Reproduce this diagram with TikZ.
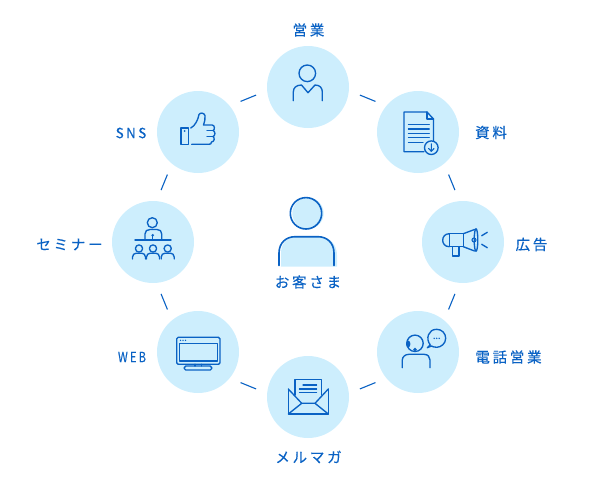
\documentclass[tikz,border=0pt]{standalone}
\usepackage{fontspec}
\usetikzlibrary{calc}
\newfontfamily\jpfont[LetterSpace=19,FakeBold=0.35]{Noto Sans CJK JP}
\definecolor{ink}{HTML}{0A62C4}
\definecolor{pale}{HTML}{CDEEFD}
\tikzset{
  hub/.style={circle,fill=pale,draw=none,minimum size=82pt,inner sep=0pt},
  lbl/.style={text=ink,font=\jpfont\fontsize{14.5}{16}\selectfont,inner sep=0pt},
  lat/.style={text=ink,font=\jpfont\fontsize{14}{16}\selectfont,inner sep=0pt},
  ico/.style={draw=ink,line width=1.35pt,line join=round,line cap=round,fill=none},
  fine/.style={draw=ink,line width=1.05pt,line cap=round},
  link/.style={draw=ink,line width=1.1pt},
}
\newcommand{\dashlink}[2]{\draw[link] ($(c)!1.085!($(#1)!.435!(#2)$)$) -- ($(c)!1.085!($(#1)!.565!(#2)$)$);}
\begin{document}
\begin{tikzpicture}[x=1pt,y=-1pt]
\useasboundingbox (0,0) rectangle (600,480);
\coordinate (c) at (308,242);
\node[hub] (n1) at (308,87) {};
\node[hub] (n2) at (418,132) {};
\node[hub] (n3) at (463,242) {};
\node[hub] (n4) at (418,352) {};
\node[hub] (n5) at (308,397) {};
\node[hub] (n6) at (198,352) {};
\node[hub] (n7) at (153,242) {};
\node[hub] (n8) at (198,132) {};
\dashlink{n1}{n2}\dashlink{n2}{n3}\dashlink{n3}{n4}\dashlink{n4}{n5}
\dashlink{n5}{n6}\dashlink{n6}{n7}\dashlink{n7}{n8}\dashlink{n8}{n1}
% labels
\node[lbl] (t1) at (308.5,30) {営業};
\node[lbl] (t2) at (491,132.5) {資料};
\node[lbl] (t3) at (531.5,244.5) {広告};
\node[lbl] (t4) at (508.5,357) {電話営業};
\node[lbl] (t5) at (308.5,457) {メルマガ};
\node[lat] (t6) at (132,357) {\scalebox{.8}[1]{WEB}};
\node[lat] (t7) at (131,133) {\scalebox{.95}[1]{SNS}};
\node[lbl] (t8) at (69.5,244.5) {セミナー};
\node[lbl] (t0) at (308,282) {お客さま};
% centre person
\fill[pale] (308,213.3) circle (15.7);
\fill[pale] (281,266.7) -- (281,253) .. controls (281,243) and (288,236.7) .. (296,236.7) -- (320,236.7) .. controls (330,236.7) and (337,245) .. (337,255) -- (337,266.7) -- cycle;
\draw[ico,line width=1.6pt] (306,213.3) circle (15.7);
\draw[ico,line width=1.6pt] (279,265.5) -- (279,253) .. controls (279,243) and (286,236.7) .. (295,236.7) -- (318,236.7) .. controls (327,236.7) and (334,243) .. (334,253) -- (334,265.5);
% sales
\draw[ico] (307.3,73.3) circle (8.3);
\draw[ico] (293.3,100.7) -- (293.3,92) .. controls (293.3,88) and (296,85) .. (301.5,85) -- (308,92.7) -- (315,85) .. controls (320,85) and (322.3,88) .. (322.3,92) -- (322.3,100.7);
% document
\draw[ico] (424,151.7) -- (404,151.7) -- (404,112) -- (427,112) -- (433.5,119) -- (433.5,141);
\draw[ico] (427,112) -- (427,119) -- (433.5,119);
\foreach \y/\e in {124.3/429.3,129/429.3,133.3/429.3,137.7/429.3,142.3/423}{\draw[fine] (408.3,\y) -- (\e,\y);}
\draw[ico] (431.3,147.7) circle (6.8);
\draw[ico,line width=1.1pt] (431.3,143.8) -- (431.3,151) (428.6,148.5) -- (431.3,151.3) -- (434,148.5);
% like
\draw[ico] (181,128) rectangle (188.3,144.3);
\fill[ink] (184.7,131) circle (1);
\draw[ico] (190.7,128) .. controls (195,126) and (198,120) .. (199,114.5) .. controls (200,112.5) and (204,112.5) .. (205,115.5) .. controls (205.5,119) and (204.5,122) .. (203.5,125) -- (212,125) .. controls (215,125) and (215,130) .. (213,130.5) .. controls (215.5,131) and (215.5,136) .. (213,136.5) .. controls (215,137.5) and (214.5,142) .. (211.5,142) .. controls (212,144) and (210,144.3) .. (208.5,144.3) -- (191.7,144.3);
\draw[fine] (207,130.5) -- (213,130.5) (207,136.5) -- (213,136.5);
% seminar
\draw[ico] (152.3,222.7) circle (5);
\draw[ico] (145,240) -- (145,234) .. controls (145,231) and (147,229.5) .. (150,229.5) -- (157,229.5) .. controls (160,229.5) and (161.7,231) .. (161.7,234) -- (161.7,240);
\draw[ico] (135,240) -- (171,240);
\fill[ink] (152.7,235.3) circle (1.4);
\draw[fine] (152.7,235.3) -- (152.7,240);
\foreach \x in {139,153,167.7}{
  \draw[ico] (\x,248.5) circle (3.6);
  \draw[ico] (\x-6.5,259) -- (\x-6.5,257) .. controls (\x-6.5,254.5) and (\x-4.5,253.3) .. (\x-3,253.3) -- (\x+3,253.3) .. controls (\x+4.5,253.3) and (\x+6.5,254.5) .. (\x+6.5,257) -- (\x+6.5,259);
}
% megaphone
\draw[ico] (449.3,233.7) rectangle (463.3,246.7);
\draw[ico] (449.3,233.7) .. controls (440.5,233.7) and (440.5,246.7) .. (449.3,246.7);
\draw[ico] (463.3,233.7) -- (474.5,229.5) (463.3,246.7) -- (474.5,251);
\draw[ico] (476,240) ellipse (1.8 and 11.3);
\draw[fine] (474,240) circle (2);
\draw[ico] (452.7,246.7) rectangle (459,256);
\draw[ico] (481.7,235.7) -- (487.3,232.3) (481.7,244.3) -- (487.3,247.7);
% phone
\draw[ico] (415,343.3) circle (8.2);
\fill[ink] (408.2,344) ellipse (2.2 and 3.4);
\fill[ink] (415,349.5) circle (1.9);
\draw[ico] (402.3,367.7) -- (402.3,360) .. controls (402.3,357) and (405,354.3) .. (409,354.3) -- (424,354.3) .. controls (428,354.3) and (430,357) .. (430,360) -- (430,367.7);
\draw[ico] (430.2,344.8) .. controls (425.5,339) and (428,329.3) .. (436.7,329.3) .. controls (442,329.3) and (445.7,333.5) .. (445.7,338.3) .. controls (445.7,343.5) and (441,347.3) .. (436.7,347.3) .. controls (434,347.3) and (432.5,346.5) .. (431.5,346) -- (427.3,347.7) -- cycle;
\foreach \x in {434.2,436.7,439.2}{\fill[ink] (\x,338.3) circle (.8);}
% monitor
\draw[ico,rounded corners=1.5pt] (176.7,337.3) rectangle (220,364.3);
\draw[ico] (179.3,343.3) rectangle (217.3,361);
\foreach \x in {180.5,183,185.5}{\fill[ink] (\x,340.3) circle (.75);}
\draw[ico] (195,364.3) -- (195,366) (201.7,364.3) -- (201.7,366);
\draw[ico,rounded corners=1.5pt] (184.3,366) rectangle (211.7,370);
% mail
\draw[ico] (295,395) -- (295,379.7) -- (321.7,379.7) -- (321.7,395);
\draw[ico] (288.3,389) -- (288.3,414) -- (328.3,414) -- (328.3,389);
\draw[ico] (288.3,389) -- (301.7,403.3) -- (315,403.3) -- (328.3,389);
\draw[ico] (288.3,414) -- (301.7,403.3) (328.3,414) -- (315,403.3);
\draw[fine] (303,385) -- (316.7,385) (299.3,389) -- (316.7,389) (299.3,392.5) -- (316.7,392.5);
\end{tikzpicture}
\end{document}
